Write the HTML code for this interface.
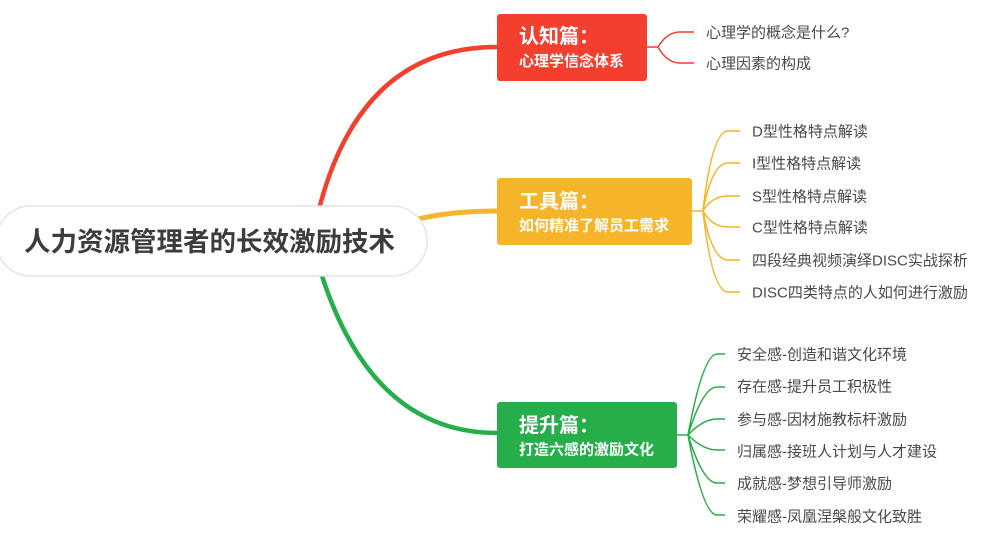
<!DOCTYPE html>
<html>
<head>
<meta charset="utf-8">
<style>
  html,body{margin:0;padding:0;background:#fff;}
  body{width:1008px;height:546px;overflow:hidden;position:relative;}
  svg{position:absolute;left:0;top:0;}
  text{font-family:"Liberation Sans","Noto Sans CJK SC",sans-serif;}
</style>
</head>
<body>
<svg width="1008" height="546" viewBox="0 0 1008 546" xmlns="http://www.w3.org/2000/svg">
  <!-- main connectors -->
  <path d="M 312 241 Q 348 47 497 47" fill="none" stroke="#f43e2e" stroke-width="4.5" stroke-linecap="round"/>
  <path d="M 400 224 Q 440 211 497 211" fill="none" stroke="#f6b42a" stroke-width="5" stroke-linecap="round"/>
  <path d="M 312 241 Q 360 433 497 433" fill="none" stroke="#26ae4a" stroke-width="4.5" stroke-linecap="round"/>

  <!-- root -->
  <rect x="-4" y="206" width="431" height="70" rx="35" ry="35" fill="#fff" stroke="#e4e4e4" stroke-width="1.5"/>
  <text x="24" y="242" dominant-baseline="central" font-size="26.5" font-weight="bold" fill="#3c3c3c">人力资源管理者的长效激励技术</text>

  <!-- red box -->
  <rect x="497" y="14" width="150" height="67" rx="3" fill="#f43e2e"/>
  <text x="519" y="37" dominant-baseline="central" font-size="20" font-weight="bold" fill="#fff">认知篇：</text>
  <text x="519" y="61.5" dominant-baseline="central" font-size="15" font-weight="bold" fill="#fff">心理学信念体系</text>

  <!-- yellow box -->
  <rect x="497" y="178" width="195" height="67" rx="3" fill="#f6b42a"/>
  <text x="519" y="202" dominant-baseline="central" font-size="20" font-weight="bold" fill="#fff">工具篇：</text>
  <text x="519" y="226" dominant-baseline="central" font-size="15" font-weight="bold" fill="#fff">如何精准了解员工需求</text>

  <!-- green box -->
  <rect x="497" y="402" width="180" height="66" rx="3" fill="#26ae4a"/>
  <text x="519" y="426" dominant-baseline="central" font-size="20" font-weight="bold" fill="#fff">提升篇：</text>
  <text x="519" y="450" dominant-baseline="central" font-size="15" font-weight="bold" fill="#fff">打造六感的激励文化</text>

  <!-- red children connectors -->
  <g fill="none" stroke="#f43e2e" stroke-width="1.5">
    <path d="M 647 47 L 658 47 Q 667 32 680 32 L 694 32"/>
    <path d="M 658 47 Q 667 63 680 63 L 694 63"/>
  </g>
  <!-- yellow children connectors -->
  <g fill="none" stroke="#f6b42a" stroke-width="1.5">
    <path d="M 692 211 L 703 211"/>
    <path d="M 703 211 Q 712 131 728 131 L 740 131"/>
    <path d="M 703 211 Q 712 163 728 163 L 740 163"/>
    <path d="M 703 211 Q 712 196 728 196 L 740 196"/>
    <path d="M 703 211 Q 712 227 728 227 L 740 227"/>
    <path d="M 703 211 Q 712 260 728 260 L 740 260"/>
    <path d="M 703 211 Q 712 292 728 292 L 740 292"/>
  </g>
  <!-- green children connectors -->
  <g fill="none" stroke="#26ae4a" stroke-width="1.5">
    <path d="M 677 435 L 688 435"/>
    <path d="M 688 435 Q 703 354 717 354 L 725 354"/>
    <path d="M 688 435 Q 703 387 717 387 L 725 387"/>
    <path d="M 688 435 Q 703 419 717 419 L 725 419"/>
    <path d="M 688 435 Q 703 450 717 450 L 725 450"/>
    <path d="M 688 435 Q 703 483 717 483 L 725 483"/>
    <path d="M 688 435 Q 703 515 717 515 L 725 515"/>
  </g>

  <!-- red children text -->
  <g font-size="15" fill="#4a4a4a" dominant-baseline="central">
    <text x="706" y="33">心理学的概念是什么?</text>
    <text x="706" y="64">心理因素的构成</text>
  </g>
  <!-- yellow children text -->
  <g font-size="15" fill="#4a4a4a" dominant-baseline="central">
    <text x="752" y="132">D型性格特点解读</text>
    <text x="752" y="164">I型性格特点解读</text>
    <text x="752" y="197">S型性格特点解读</text>
    <text x="752" y="228">C型性格特点解读</text>
    <text x="752" y="261">四段经典视频演绎DISC实战探析</text>
    <text x="752" y="293">DISC四类特点的人如何进行激励</text>
  </g>
  <!-- green children text -->
  <g font-size="15" fill="#4a4a4a" dominant-baseline="central">
    <text x="737" y="355">安全感-创造和谐文化环境</text>
    <text x="737" y="387">存在感-提升员工积极性</text>
    <text x="737" y="420">参与感-因材施教标杆激励</text>
    <text x="737" y="452">归属感-接班人计划与人才建设</text>
    <text x="737" y="484">成就感-梦想引导师激励</text>
    <text x="737" y="517">荣耀感-凤凰涅槃般文化致胜</text>
  </g>
</svg>
</body>
</html>
